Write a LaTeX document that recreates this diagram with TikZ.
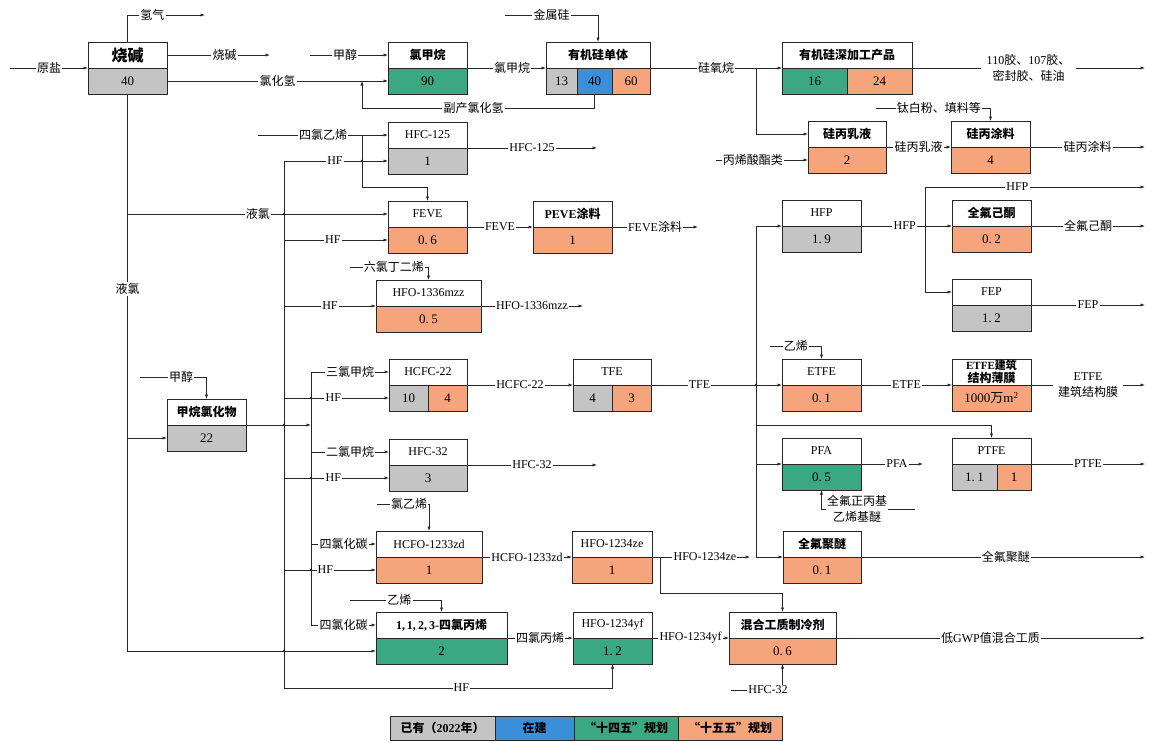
\documentclass[tikz,border=0pt]{standalone}
\usepackage{fontspec}
\setmainfont{Liberation Serif}
\newfontfamily\zhfont{Noto Sans CJK SC}
\usetikzlibrary{arrows.meta}
\newcommand\zh[1]{{\zhfont #1}}
\newcommand\zb[1]{{\zhfont\bfseries #1}}
\newcommand\dd{.\hspace{2.5pt}}
\definecolor{cgray}{RGB}{196,196,196}
\definecolor{cblue}{RGB}{58,143,217}
\definecolor{cgreen}{RGB}{58,168,130}
\definecolor{corange}{RGB}{246,164,124}
\tikzset{
 ln/.style={line width=0.7pt, draw=black!85},
 arr/.style={ln, -{Latex[length=4.5pt,width=3.2pt]}},
 lbl/.style={fill=white, inner sep=1.2pt, font=\fontsize{12}{13}\selectfont},
 boxtop/.style={draw=black!85, line width=0.8pt, minimum height=26pt, inner sep=0pt, outer sep=0pt, fill=white, anchor=north west, align=center, font=\fontsize{12}{13}\selectfont},
 boxbot/.style={boxtop, font=\fontsize{13}{14}\selectfont},
 jdot/.style={fill=black!85},
}
\newcommand\procbox[7]{%
  \node[boxtop, minimum width=#4pt] (#1-t) at (#2,#3) {#5};
  \node[boxbot, minimum width=#4pt, fill=#6] (#1-b) at (#1-t.south west) {#7};}
\begin{document}
\begin{tikzpicture}[x=1pt,y=-1pt]
\useasboundingbox (0,0) rectangle (1153,742);
% ---------- boxes ----------
\procbox{sj}{88}{42}{79}{\zhfont\bfseries\fontsize{16}{17}\selectfont 烧碱}{cgray}{40}
\procbox{clm}{388}{42}{79}{\zb{氯甲烷}}{cgreen}{90}
\node[boxtop, minimum width=104pt] (yjg-t) at (546,42) {\zb{有机硅单体}};
\node[boxbot, minimum width=31pt, fill=cgray] (yjg-c1) at (yjg-t.south west) {13};
\node[boxbot, minimum width=35pt, fill=cblue] (yjg-c2) at (yjg-c1.north east) {40};
\node[boxbot, minimum width=38pt, fill=corange] (yjg-c3) at (yjg-c2.north east) {60};
\node[boxtop, minimum width=130pt] (sjg-t) at (782,42) {\zb{有机硅深加工产品}};
\node[boxbot, minimum width=65pt, fill=cgreen] (sjg-c1) at (sjg-t.south west) {16};
\node[boxbot, minimum width=65pt, fill=corange] (sjg-c2) at (sjg-c1.north east) {24};
\procbox{rl}{808}{121}{78}{\zb{硅丙乳液}}{corange}{2}
\procbox{tl}{951}{121}{79}{\zb{硅丙涂料}}{corange}{4}
\procbox{hfca}{388}{122}{79}{HFC-125}{cgray}{1}
\procbox{feve}{388}{201}{79}{FEVE}{corange}{0\dd6}
\procbox{fevetl}{533}{201}{79}{\textbf{PEVE}\zb{涂料}}{corange}{1}
\procbox{hfo1336}{376}{280}{105}{HFO-1336mzz}{corange}{0\dd5}
\procbox{jwl}{167}{399}{79}{\zb{甲烷氯化物}}{cgray}{22}
\node[boxtop, minimum width=78pt] (hcfc-t) at (389,359) {HCFC-22};
\node[boxbot, minimum width=39pt, fill=cgray] (hcfc-c1) at (hcfc-t.south west) {10};
\node[boxbot, minimum width=39pt, fill=corange] (hcfc-c2) at (hcfc-c1.north east) {4};
\node[boxtop, minimum width=78pt] (tfe-t) at (573,359) {TFE};
\node[boxbot, minimum width=39pt, fill=cgray] (tfe-c1) at (tfe-t.south west) {4};
\node[boxbot, minimum width=39pt, fill=corange] (tfe-c2) at (tfe-c1.north east) {3};
\procbox{hfcb}{389}{439}{78}{HFC-32}{cgray}{3}
\procbox{hcfo}{376}{531}{106}{HCFO-1233zd}{corange}{1}
\procbox{ze}{572}{531}{80}{HFO-1234ze}{corange}{1}
\procbox{tcp}{376}{612}{131}{\textbf{1,\,1,\,2,\,3-}\zb{四氯丙烯}}{cgreen}{2}
\procbox{yf}{573}{612}{79}{HFO-1234yf}{cgreen}{1\dd2}
\procbox{mix}{729}{612}{107}{\zb{混合工质制冷剂}}{corange}{0\dd6}
\procbox{hfp}{782}{200}{79}{HFP}{cgray}{1\dd9}
\procbox{pfk}{952}{200}{79}{\zb{全氟己酮}}{corange}{0\dd2}
\procbox{fep}{952}{279}{79}{FEP}{cgray}{1\dd2}
\procbox{etfe}{782}{359}{79}{ETFE}{corange}{0\dd1}
\procbox{etfem}{952}{359}{79}{\fontsize{11}{12}\selectfont\textbf{ETFE}\zb{建筑}\\\zb{结构薄膜}}{corange}{1000\zh{万}m\textsuperscript{2}}
\procbox{pfa}{782}{438}{79}{PFA}{cgreen}{0\dd5}
\node[boxtop, minimum width=79pt] (ptfe-t) at (952,438) {PTFE};
\node[boxbot, minimum width=45pt, fill=cgray] (ptfe-c1) at (ptfe-t.south west) {1\dd1};
\node[boxbot, minimum width=34pt, fill=corange] (ptfe-c2) at (ptfe-c1.north east) {1};
\procbox{pfpe}{783}{531}{78}{\zb{全氟聚醚}}{corange}{0\dd1}
% ---------- legend ----------
\tikzset{lg/.style={boxbot, minimum height=24pt, font=\fontsize{12}{13}\selectfont\bfseries}}
\node[lg, minimum width=105pt, fill=cgray] (lg1) at (390,716) {\zh{已有（}2022\zh{年）}};
\node[lg, minimum width=79pt, fill=cblue] (lg2) at (lg1.north east) {\zh{在建}};
\node[lg, minimum width=104pt, fill=cgreen] (lg3) at (lg2.north east) {\zh{“十四五”规划}};
\node[lg, minimum width=104pt, fill=corange] (lg4) at (lg3.north east) {\zh{“十五五”规划}};
% ---------- top row ----------
\coordinate (yuan) at (10,68);
\draw[arr] (yuan) -- node[lbl]{\zh{原盐}} (sj-t.south west);
\coordinate (qq) at (205,15);
\draw[arr] (sj-t.north) -- (sj-t.north |- qq) -- node[lbl,pos=0.32]{\zh{氢气}} (qq);
\coordinate (sjo) at (270,55);
\draw[arr] (sj-t.east) -- node[lbl,pos=0.56]{\zh{烧碱}} (sjo);
\draw[arr] (sj-b.east) -- node[lbl]{\zh{氯化氢}} (clm-b.west);
\coordinate (fc) at (362,108);
\draw[arr] (yjg-c2.south) |- node[lbl,pos=0.76]{\zh{副产氯化氢}} (fc) -- (fc |- clm-b.west);
\coordinate (mc) at (310,55);
\draw[arr] (mc) -- node[lbl,pos=0.45]{\zh{甲醇}} (clm-t.west);
\coordinate (jsg) at (505,15);
\draw[arr] (jsg) -- node[lbl]{\zh{金属硅}} (jsg -| yjg-t.north) -- (yjg-t.north);
\draw[arr] (clm-t.south east) -- node[lbl,pos=0.57]{\zh{氯甲烷}} (yjg-t.south west);
\draw[arr] (yjg-t.south east) -- node[lbl,pos=0.5]{\zh{硅氧烷}} (sjg-t.south west);
\coordinate (jx) at (756,68);
\draw[arr] (jx) |- (rl-t.west);
\coordinate (sjgo) at (1145,68);
\draw[arr] (sjg-t.south east) -- node[lbl, align=center, inner xsep=6pt, pos=0.5, font=\fontsize{12}{16}\selectfont]{110\zh{胶、}107\zh{胶、}\\\zh{密封胶、硅油}} (sjgo);
\coordinate (byx) at (716,160);
\draw[arr] (byx) -- node[lbl,pos=0.4]{\zh{丙烯酸酯类}} (rl-b.west);
\coordinate (tbf) at (876,108);
\draw[arr] (tbf) -- node[lbl,pos=0.55]{\zh{钛白粉、填料等}} (tbf -| tl-t.north) -- (tl-t.north);
\draw[arr] (rl-t.south east) -- node[lbl]{\zh{硅丙乳液}} (tl-t.south west);
\coordinate (tlo) at (1145,147);
\draw[arr] (tl-t.south east) -- node[lbl]{\zh{硅丙涂料}} (tlo);
% ---------- HFC-125 / FEVE / HFO-1336 ----------
\coordinate (sle) at (258,135);
\draw[arr] (sle) -- node[lbl]{\zh{四氯乙烯}} (hfca-t.west);
\coordinate (j362) at (362,135);
\coordinate (k187) at (362,187);
\draw[arr] (j362) -- (k187) -| (feve-t.north);
\coordinate (hfout1) at (597,148);
\draw[arr] (hfca-t.south east) -- node[lbl]{HFC-125} (hfout1);
\coordinate (b284top) at (284,161);
\coordinate (b284bot) at (284,688);
\draw[arr] (b284bot) -- (b284top) -- node[lbl,pos=0.49]{HF} (hfca-b.west);
\draw[arr] (b284bot) -- node[lbl,pos=0.54]{HF} (b284bot -| yf-b.south) -- (yf-b.south);
\draw[arr] (sj-b.south |- feve-t.west) -- node[lbl]{\zh{液氯}} (feve-t.west);
\draw[arr] (b284top |- feve-b.west) -- node[lbl,pos=0.47]{HF} (feve-b.west);
\draw[arr] (b284top |- hfo1336-t.south west) -- node[lbl]{HF} (hfo1336-t.south west);
\coordinate (lcd) at (350,267);
\draw[arr] (lcd) -- node[lbl,pos=0.56]{\zh{六氯丁二烯}} (lcd -| hfo1336-t.north) -- (hfo1336-t.north);
\coordinate (o1336) at (583,306);
\draw[arr] (hfo1336-t.south east) -- node[lbl]{HFO-1336mzz} (o1336);
\draw[arr] (feve-t.south east) -- node[lbl]{FEVE} (fevetl-t.south west);
\coordinate (ofeve) at (698,227);
\draw[arr] (fevetl-t.south east) -- node[lbl]{FEVE\zh{涂料}} (ofeve);
% ---------- main chlorine line & methane chlorides ----------
\draw[arr] (sj-b.south) -- node[lbl,pos=0.35]{\zh{液氯}} (sj-b.south |- tcp-b.west) -- (tcp-b.west);
\draw[arr] (sj-b.south |- jwl-b.west) -- (jwl-b.west);
\coordinate (mc2) at (140,377);
\draw[arr] (mc2) -- node[lbl,pos=0.62]{\zh{甲醇}} (mc2 -| jwl-t.north) -- (jwl-t.north);
\coordinate (b311) at (311,425);
\draw[arr] (jwl-t.south east) -- (b311);
\draw[arr] (b311) -- (b311 |- hcfc-t.west) -- node[lbl]{\zh{三氯甲烷}} (hcfc-t.west);
\draw[arr] (b311) -- (b311 |- tcp-t.west) -- node[lbl]{\zh{四氯化碳}} (tcp-t.west);
\draw[arr] (b311 |- hfcb-t.west) -- node[lbl]{\zh{二氯甲烷}} (hfcb-t.west);
\draw[arr] (b311 |- hcfo-t.west) -- node[lbl]{\zh{四氯化碳}} (hcfo-t.west);
\draw[arr] (b284top |- hcfc-c1.west) -- node[lbl,pos=0.47]{HF} (hcfc-c1.west);
\draw[arr] (b284top |- hfcb-b.west) -- node[lbl,pos=0.47]{HF} (hfcb-b.west);
\draw[arr] (b284top |- hcfo-b.west) -- node[lbl,pos=0.45]{HF} (hcfo-b.west);
\coordinate (o32) at (597,465);
\draw[arr] (hfcb-t.south east) -- node[lbl]{HFC-32} (o32);
\draw[arr] (hcfc-t.south east) -- node[lbl]{HCFC-22} (tfe-t.south west);
% ---------- TFE chain ----------
\draw[arr] (tfe-t.south east) -- node[lbl,pos=0.37]{TFE} (etfe-t.south west);
\coordinate (v756) at (756,385);
\draw[arr] (v756) -- (v756 |- hfp-t.south west) -- (hfp-t.south west);
\draw[arr] (v756) -- (v756 |- pfpe-t.south west) -- (pfpe-t.south west);
\draw[arr] (v756 |- pfa-t.south west) -- (pfa-t.south west);
\coordinate (p425) at (756,425);
\draw[arr] (p425) -- (p425 -| ptfe-t.north) -- (ptfe-t.north);
\draw[arr] (hfp-t.south east) -- node[lbl,pos=0.48]{HFP} (pfk-t.south west);
\coordinate (j925) at (925,226);
\draw[arr] (j925) -- (j925 |- fep-t.west) -- (fep-t.west);
\coordinate (hfpo) at (1145,187);
\draw[arr] (j925) -- (j925 |- hfpo) -- node[lbl,pos=0.42]{HFP} (hfpo);
\coordinate (opfk) at (1145,226);
\draw[arr] (pfk-t.south east) -- node[lbl]{\zh{全氟己酮}} (opfk);
\coordinate (ofep) at (1145,305);
\draw[arr] (fep-t.south east) -- node[lbl]{FEP} (ofep);
\coordinate (yx1) at (770,346);
\draw[arr] (yx1) -- node[lbl]{\zh{乙烯}} (yx1 -| etfe-t.north) -- (etfe-t.north);
\draw[arr] (etfe-t.south east) -- node[lbl]{ETFE} (etfem-t.south west);
\coordinate (oetfe) at (1145,385);
\draw[arr] (etfem-t.south east) -- node[lbl, align=center, font=\fontsize{12}{16}\selectfont, inner xsep=5pt]{ETFE\\\zh{建筑结构膜}} (oetfe);
\coordinate (opfa) at (923,464);
\draw[arr] (pfa-t.south east) -- node[lbl,pos=0.58]{PFA} (opfa);
\coordinate (optfe) at (1145,464);
\draw[arr] (ptfe-t.south east) -- node[lbl]{PTFE} (optfe);
\coordinate (pe) at (915,509);
\draw[arr] (pe) -- node[lbl, align=center, font=\fontsize{12}{16}\selectfont, pos=0.62]{\zh{全氟正丙基}\\\zh{乙烯基醚}} (pe -| pfa-b.south) -- (pfa-b.south);
\coordinate (opfpe) at (1145,557);
\draw[arr] (pfpe-t.south east) -- node[lbl,pos=0.51]{\zh{全氟聚醚}} (opfpe);
% ---------- HFO chains ----------
\coordinate (lyx) at (377,504);
\draw[arr] (lyx) -- node[lbl,pos=0.62]{\zh{氯乙烯}} (lyx -| hcfo-t.north) -- (hcfo-t.north);
\draw[arr] (hcfo-t.south east) -- node[lbl]{HCFO-1233zd} (ze-t.south west);
\coordinate (oze) at (750,557);
\draw[arr] (ze-t.south east) -- node[lbl,pos=0.54]{HFO-1234ze} (oze);
\coordinate (z660) at (660,557);
\draw[arr] (z660) -- ++(0,36) -| (mix-t.north);
\coordinate (yx2) at (350,600);
\draw[arr] (yx2) -- node[lbl,pos=0.54]{\zh{乙烯}} (yx2 -| tcp-t.north) -- (tcp-t.north);
\draw[arr] (tcp-t.south east) -- node[lbl]{\zh{四氯丙烯}} (yf-t.south west);
\draw[arr] (yf-t.south east) -- node[lbl]{HFO-1234yf} (mix-t.south west);
\coordinate (omix) at (1145,638);
\draw[arr] (mix-t.south east) -- node[lbl]{\zh{低}GWP\zh{值混合工质}} (omix);
\node[lbl] (h32) at (768,690) {HFC-32};
\coordinate (h32s) at (731,690);
\draw[ln] (h32s) -- (h32.west);
\draw[arr] (h32.north -| mix-b.south) -- (mix-b.south);
% ---------- junction dots ----------
\foreach \p in {(362,161),(284,214),(311,398),(284,425),(311,478),(311,570),(284,651),(756,385)}
  \fill[jdot] \p circle (1.3pt);
\end{tikzpicture}
\end{document}
